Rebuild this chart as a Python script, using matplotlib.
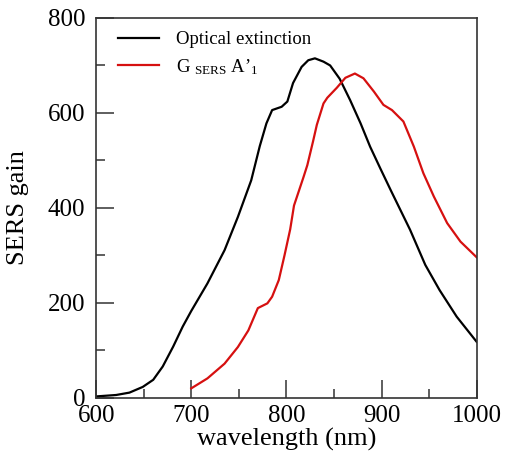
import matplotlib
matplotlib.use("Agg")
import matplotlib.pyplot as plt
from matplotlib.ticker import MultipleLocator

plt.rcParams['font.family'] = ['Liberation Serif', 'DejaVu Serif']
plt.rcParams['mathtext.fontset'] = 'custom'
plt.rcParams['mathtext.rm'] = 'Liberation Serif'
plt.rcParams['mathtext.it'] = 'Liberation Serif:italic'

# Optical extinction
ext_wl = [600, 621, 635, 649, 660, 670, 681, 691, 700, 717, 735, 749, 763, 772,
          779, 785, 795, 801, 807, 816, 823, 830, 839, 846, 856, 867, 878, 888,
          899, 910, 920, 930, 946, 961, 979, 1000]
ext_val = [3, 6, 11, 23, 38, 66, 108, 150, 183, 241, 311, 381, 458, 530,
           578, 606, 613, 624, 663, 697, 711, 715, 708, 700, 672, 627, 578, 529,
           482, 436, 395, 354, 280, 227, 171, 118]

# G_SERS A'_1
g_wl = [700, 717, 735, 749, 760, 770, 780, 785, 792, 798, 804, 808, 813, 818,
        822, 828, 832, 839, 843, 853, 862, 872, 881, 892, 902, 911, 923, 934,
        944, 955, 969, 983, 1000]
g_val = [20, 41, 72, 107, 142, 189, 199, 213, 248, 300, 355, 405, 435, 465,
         490, 540, 575, 620, 632, 653, 674, 683, 673, 645, 617, 606, 582, 529,
         473, 424, 368, 329, 296]

fig = plt.figure(figsize=(5.06, 4.61), dpi=100)
ax = fig.add_axes([0.190, 0.137, 0.752, 0.824])

ax.plot(ext_wl, ext_val, color='black', lw=1.6, label='Optical extinction')
ax.plot(g_wl, g_val, color='#d61010', lw=1.6,
        label='G $_{\\mathregular{SERS}}$ A\u2019$_{\\mathregular{1}}$')

ax.set_xlim(600, 1000)
ax.set_ylim(0, 800)
ax.xaxis.set_major_locator(MultipleLocator(100))
ax.xaxis.set_minor_locator(MultipleLocator(50))
ax.yaxis.set_major_locator(MultipleLocator(200))
ax.yaxis.set_minor_locator(MultipleLocator(100))
ax.tick_params(which='both', direction='in', color='#333333', width=1.1)
ax.tick_params(which='major', length=13, labelsize=18)
ax.tick_params(which='minor', length=6.5)
ax.tick_params(axis='x', which='major', pad=5)
ax.tick_params(axis='y', which='major', pad=8)
for s in ax.spines.values():
    s.set_linewidth(1.2)
    s.set_color('#333333')

ax.set_xlabel('wavelength (nm)', fontsize=19, labelpad=1)
ax.set_ylabel('SERS gain', fontsize=19)
ax.yaxis.set_label_coords(-0.176, 0.5)

ax.legend(loc='upper left', bbox_to_anchor=(0.058, 0.965), frameon=False,
          fontsize=13.5, handlelength=2.2, handletextpad=0.9,
          borderpad=0, borderaxespad=0, labelspacing=0.45)

fig.savefig('out.png', dpi=100)
